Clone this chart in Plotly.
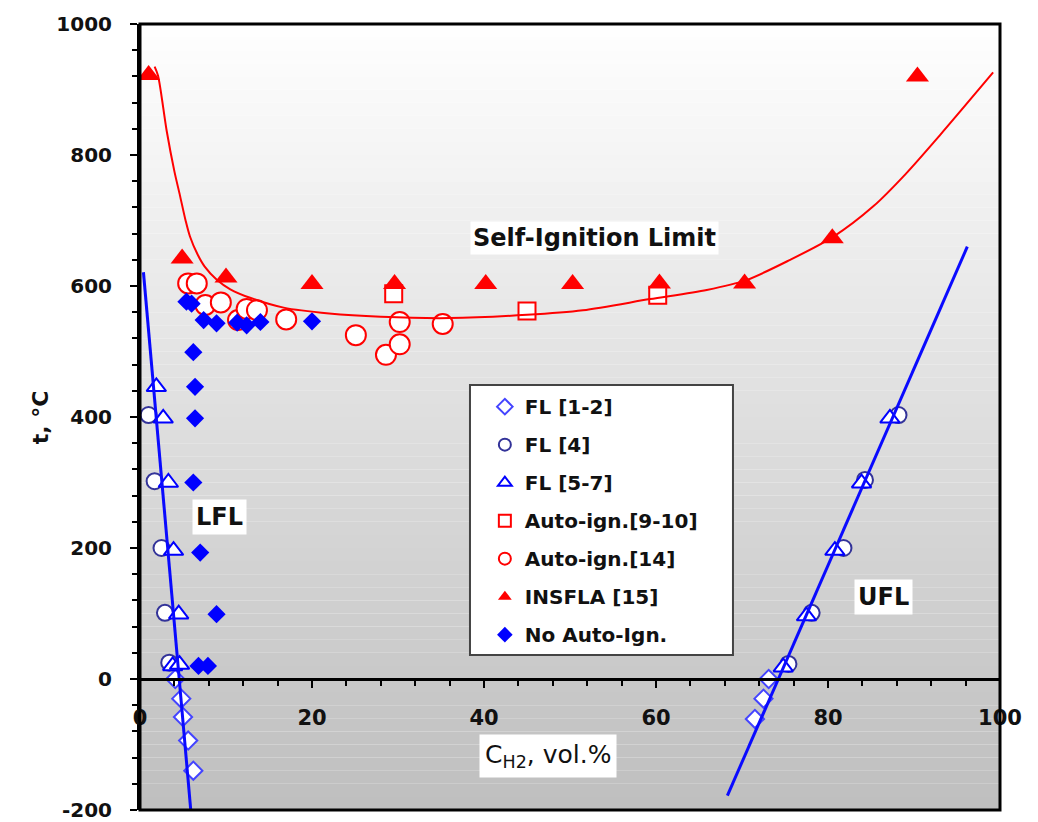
import plotly.graph_objects as go

# ---------------- data ----------------
fl12_x = [4.1, 4.8, 5.0, 5.6, 6.2, 73.1, 72.5, 71.5]
fl12_y = [0, -30, -58, -94, -140, 0, -30, -61]

fl4_x = [1.0, 1.7, 2.5, 2.9, 3.4, 75.4, 78.1, 81.8, 84.3, 88.2]
fl4_y = [403, 302, 200, 101, 25, 23, 101, 200, 304, 403]

fl57_x = [1.9, 2.7, 3.3, 3.9, 4.5, 3.8, 4.6, 74.8, 77.5, 80.8, 83.9, 87.2]
fl57_y = [446, 398, 300, 196, 99, 20, 22, 18, 96, 196, 299, 398]

ai910_x = [29.5, 45.0, 60.2]
ai910_y = [588, 562, 586]

ai14_x = [5.6, 6.6, 7.6, 9.4, 11.4, 12.4, 13.6, 17.0, 25.1, 28.6, 30.2, 30.2, 35.2]
ai14_y = [604, 604, 571, 575, 548, 565, 563, 549, 525, 495, 545, 511, 542]

insfla_x = [1.0, 4.9, 10.0, 20.0, 29.6, 40.2, 50.3, 60.4, 70.3, 80.5, 90.4]
insfla_y = [922, 642, 613, 603, 603, 603, 603, 604, 604, 673, 920]

noai_x = [5.4, 6.0, 7.4, 8.9, 11.3, 12.4, 14.0, 20.0, 6.2, 6.4, 6.4, 6.2, 7.0, 8.9, 6.8, 7.9]
noai_y = [576, 573, 548, 543, 544, 540, 545, 546, 499, 446, 398, 300, 193, 99, 20, 20]

# fitted curves
sil_x = [1.7, 2.1, 3.1, 4.0, 4.65, 5.3, 5.8, 6.7, 7.5, 8.9, 10.5, 12.8, 16.7, 22.0, 28.0, 36.0,
         45.0, 51.5, 59.3, 65.9, 70.5, 75.6, 80.6, 85.3, 89.1, 93.0, 99.2]
sil_y = [935, 921, 837, 775, 738, 700, 676, 648, 630, 610, 595, 582, 567, 558, 553, 551,
         556, 563, 580, 594, 609, 640, 675, 722, 772, 830, 926]

lfl_x = [0.4, 5.9]
lfl_y = [621, -200]
ufl_x = [68.3, 96.2]
ufl_y = [-178, 660]

x_ticks = [0, 20, 40, 60, 80, 100]
y_ticks = [-200, 0, 200, 400, 600, 800, 1000]

# ---------------- figure ----------------
FAM = "DejaVu Sans"
fig = go.Figure()

def add_pts(x, y, name, symbol, size, color, fill, lw, grp):
    fig.add_trace(go.Scatter(
        x=x, y=y, mode="markers", name=name, legendgroup=grp,
        marker=dict(symbol=symbol, size=size, color=fill,
                    line=dict(color=color, width=lw))))

add_pts(fl12_x, fl12_y, "FL [1-2]", "diamond", 14, "#4444ff", "white", 2, "g1")
add_pts(fl4_x, fl4_y, "FL [4]", "circle", 16, "#333399", "white", 2, "g2")
add_pts(fl57_x, fl57_y, "FL [5-7]", "triangle-up", 17, "#0000ff", "white", 2, "g3")
add_pts(ai910_x, ai910_y, "Auto-ign.[9-10]", "square", 17, "#ff0000", "white", 2, "g4")
add_pts(ai14_x, ai14_y, "Auto-ign.[14]", "circle", 20, "#ff0000", "white", 2, "g5")
add_pts(insfla_x, insfla_y, "INSFLA [15]", "triangle-up", 20, "#ff0000", "#ff0000", 0, "g6")
add_pts(noai_x, noai_y, "No Auto-Ign.", "diamond", 14, "#0000ff", "#0000ff", 0, "g7")

fig.add_trace(go.Scatter(x=sil_x, y=sil_y, mode="lines", showlegend=False,
                         line=dict(color="#ff0000", width=2, shape="spline", smoothing=0.8)))
fig.add_trace(go.Scatter(x=lfl_x, y=lfl_y, mode="lines", showlegend=False,
                         line=dict(color="#0a0aff", width=3)))
fig.add_trace(go.Scatter(x=ufl_x, y=ufl_y, mode="lines", showlegend=False,
                         line=dict(color="#0a0aff", width=3)))

# gradient background
shapes = []
N = 60
for i in range(N):
    f = (i + 0.5) / N
    g = int(round(255 - (255 - 190) * f))
    shapes.append(dict(type="rect", xref="paper", yref="paper", layer="below",
                       x0=0, x1=1, y0=1 - (i + 1) / N, y1=1 - i / N,
                       line=dict(width=0), fillcolor=f"rgb({g},{g},{g})"))
# plot border
shapes.append(dict(type="rect", xref="paper", yref="paper", layer="above",
                   x0=0, x1=1, y0=0, y1=1, line=dict(color="black", width=3)))
# legend box
shapes.append(dict(type="rect", xref="paper", yref="paper", layer="above",
                   x0=0.3837, x1=0.6895, y0=0.1972, y1=0.5407,
                   fillcolor="white", line=dict(color="#444444", width=2)))

txt = "#111111"
annotations = [
    dict(x=52.8, y=673, xref="x", yref="y", text="<b>Self-Ignition Limit</b>",
         showarrow=False, bgcolor="white", borderpad=2,
         font=dict(family=FAM, size=24, color=txt)),
    dict(x=9.3, y=247, xref="x", yref="y", text="<b>LFL</b>",
         showarrow=False, bgcolor="white", borderpad=3,
         font=dict(family=FAM, size=24, color=txt)),
    dict(x=86.4, y=125, xref="x", yref="y", text="<b>UFL</b>",
         showarrow=False, bgcolor="white", borderpad=3,
         font=dict(family=FAM, size=24, color=txt)),
    dict(x=47.4, y=-117, xref="x", yref="y", text="C<sub>H2</sub>, vol.%",
         showarrow=False, bgcolor="white", borderpad=5,
         font=dict(family=FAM, size=25, color=txt)),
    dict(x=-0.116, y=0.5, xref="paper", yref="paper", text="<b>t, °C</b>",
         showarrow=False, textangle=-90, xanchor="center", yanchor="middle",
         font=dict(family=FAM, size=22, color=txt)),
]

fig.update_layout(
    width=1038, height=822,
    margin=dict(l=140, r=38, t=24, b=12),
    paper_bgcolor="white", plot_bgcolor="white",
    shapes=shapes, annotations=annotations,
    showlegend=True,
    legend=dict(x=0.401, y=0.538, xanchor="left", yanchor="top",
                bgcolor="rgba(0,0,0,0)", borderwidth=0,
                tracegroupgap=9, itemsizing="constant",
                font=dict(family=FAM, size=20, color=txt, weight="bold")),
    xaxis=dict(range=[0, 100], anchor="free", position=1 / 6,
               tickvals=x_ticks, ticktext=[f"<b>{v}</b>" for v in x_ticks],
               showline=True, linecolor="black", linewidth=3,
               ticks="outside", ticklen=7, tickwidth=2, tickcolor="black",
               minor=dict(dtick=4, tick0=0, ticks="outside", ticklen=5, tickwidth=2, tickcolor="black"),
               showgrid=False, zeroline=False, ticklabelstandoff=12,
               ticklabeloverflow="allow",
               tickfont=dict(family=FAM, size=21, color=txt)),
    yaxis=dict(range=[-200, 1000], automargin=False,
               tickvals=y_ticks, ticktext=[f"<b>{v}</b>" for v in y_ticks],
               showline=True, linecolor="black", linewidth=3,
               ticks="outside", ticklen=7, tickwidth=2, tickcolor="black",
               minor=dict(dtick=40, tick0=0, ticks="outside", ticklen=5, tickwidth=2, tickcolor="black"),
               showgrid=False, zeroline=False, ticklabelstandoff=14,
               ticklabeloverflow="allow",
               tickfont=dict(family=FAM, size=20, color=txt)),
)

fig.write_html("out.html", config={"displayModeBar": False},
               post_script="document.body.style.margin='0px';")
